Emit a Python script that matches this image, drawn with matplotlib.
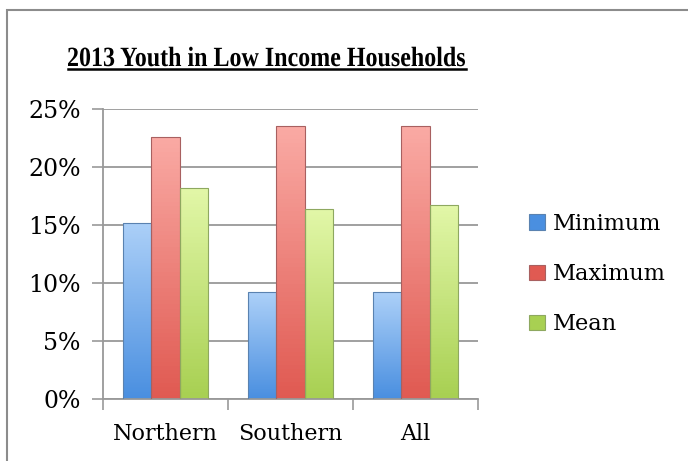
import matplotlib
matplotlib.use('Agg')
import matplotlib.pyplot as plt
import numpy as np
from matplotlib.colors import LinearSegmentedColormap
from matplotlib.patches import Rectangle, PathPatch
from matplotlib.lines import Line2D
from matplotlib.textpath import TextPath
from matplotlib.font_manager import FontProperties
from matplotlib.transforms import Affine2D

categories = ['Northern', 'Southern', 'All']
series_names = ['Minimum', 'Maximum', 'Mean']
minimum = [0.152, 0.092, 0.092]
maximum = [0.226, 0.235, 0.235]
mean = [0.182, 0.1635, 0.167]
y_ticks = [0, 0.05, 0.10, 0.15, 0.20, 0.25]
y_tick_labels = ['0%', '5%', '10%', '15%', '20%', '25%']
title_text = '2013 Youth in Low Income Households'

# top colour, bottom colour, edge colour
styles = [
    ('#acd0f8', '#4a8fe0', '#5a82b0'),
    ('#faaaa4', '#e05a52', '#a86060'),
    ('#e2f7a8', '#a8d052', '#8ea860'),
]

serif = ['DejaVu Serif', 'Liberation Serif']

fig = plt.figure(figsize=(6.88, 4.61), dpi=100)
ax = fig.add_axes([0.1497, 0.1345, 0.5451, 0.6291])

x = np.arange(len(categories))
width = 0.228
data = [minimum, maximum, mean]
grad = np.linspace(0, 1, 64).reshape(-1, 1)

for i, vals in enumerate(data):
    top, bottom, edge = styles[i]
    cmap = LinearSegmentedColormap.from_list('g%d' % i, [bottom, top])
    bars = ax.bar(x + (i - 1) * width, vals, width, color='none',
                  edgecolor=edge, linewidth=0.8, zorder=3, label=series_names[i])
    for b in bars:
        x0, w, h = b.get_x(), b.get_width(), b.get_height()
        im = ax.imshow(grad, cmap=cmap, extent=[x0, x0 + w, 0, h],
                       origin='lower', aspect='auto', zorder=2)
        im.set_clip_path(b)

ax.set_xlim(-0.5, 2.5)
ax.set_ylim(0, 0.25)
ax.set_yticks(y_ticks)
ax.set_yticklabels(y_tick_labels, family=serif, fontsize=17)
ax.set_xticks([-0.5, 0.5, 1.5, 2.5])
ax.set_xticklabels([])
ax.set_xticks(x, minor=True)
ax.set_xticklabels(categories, minor=True, family=serif, fontsize=16)
ax.tick_params(axis='x', which='minor', length=0, pad=17)
ax.tick_params(axis='x', which='major', length=8, color='#999999', width=1.2, direction='out')
ax.tick_params(axis='y', length=8, color='#999999', width=1.2, pad=8)
ax.grid(axis='y', color='#999999', linewidth=1.3, zorder=1)
ax.set_axisbelow(True)
for s in ['top', 'right']:
    ax.spines[s].set_visible(False)
for s in ['left', 'bottom']:
    ax.spines[s].set_color('#999999')
    ax.spines[s].set_linewidth(1.3)

handles = []
for i in range(3):
    top, bottom, edge = styles[i]
    handles.append(Rectangle((0, 0), 1, 1, facecolor=bottom, edgecolor=edge, linewidth=0.8))
leg = fig.legend(handles, series_names, loc='center left', bbox_to_anchor=(0.74, 0.405),
                 frameon=False, prop={'family': serif, 'size': 16.2},
                 handlelength=0.7, handleheight=0.7, handletextpad=0.35, labelspacing=1.25)

# title: condensed bold serif, drawn as a path so it can be narrowed
fp = FontProperties(family='Liberation Serif', weight='bold')
tp = TextPath((0, 0), title_text, size=27.8, prop=fp)
ext = tp.get_extents()
sx = 397 / ext.width
cx, base = 266.5, 461 - 66
tr = Affine2D().translate(-ext.x0 - ext.width / 2, 0).scale(sx, 1).translate(cx, base)
fig.patches.append(PathPatch(tp, transform=tr, facecolor='black', edgecolor='none'))
fig.lines.append(Line2D([cx - 199, cx + 199], [461 - 68.5, 461 - 68.5], transform=Affine2D(),
                        color='black', linewidth=1.8))

# outer chart border
fig.patches.append(Rectangle((7 / 688, -0.1), 1.1, 0.1 + 1 - 10 / 461, transform=fig.transFigure,
                             fill=False, edgecolor='#8c8c8c', linewidth=1.5))

fig.savefig('out.png', dpi=100)
